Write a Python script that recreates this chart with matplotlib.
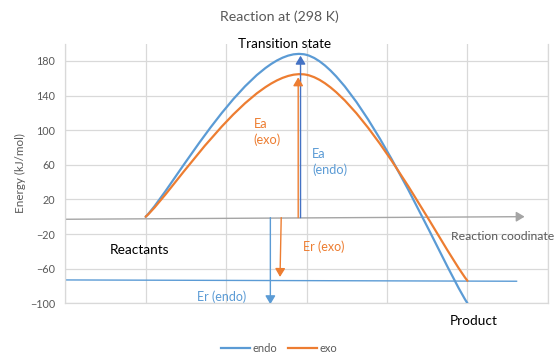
import matplotlib
matplotlib.use("Agg")
import matplotlib.pyplot as plt
from matplotlib.path import Path
from matplotlib.patches import PathPatch, FancyArrowPatch
from matplotlib.lines import Line2D

plt.rcParams['font.family'] = ['Lato', 'DejaVu Sans']

# ---- data ----
stages = [1, 3, 5]                      # reactants, transition state, product
endo = [0, 187, -100]
exo = [0, 164, -74]
series_names = ["endo", "exo"]
yticks = [-100, -60, -20, 20, 60, 100, 140, 180]

# annotation arrows (x, y_start, y_end) in data units
ea_endo = [2.925, -1, 186]
ea_exo = [2.896, -1, 161]
er_endo = [2.55, -1, -101]
er_exo = [(2.685, -1), (2.67, -69.5)]
coord_axis = [(0, -2.9), (5.71, 0.1)]
product_level = [(0, -73), (5.61, -74.5)]

BLUE = "#5B9BD5"
DBLUE = "#4472C4"
ORANGE = "#ED7D31"
GRID = "#D9D9D9"
TXT = "#595959"


def smooth_path(xs, ys):
    pts = list(zip(xs, ys))
    n = len(pts)
    verts = [pts[0]]
    codes = [Path.MOVETO]
    for i in range(n - 1):
        p0 = pts[i - 1] if i > 0 else pts[i]
        p1 = pts[i]
        p2 = pts[i + 1]
        p3 = pts[i + 2] if i + 2 < n else pts[i + 1]
        c1 = (p1[0] + (p2[0] - p0[0]) / 6, p1[1] + (p2[1] - p0[1]) / 6)
        c2 = (p2[0] - (p3[0] - p1[0]) / 6, p2[1] - (p3[1] - p1[1]) / 6)
        verts += [c1, c2, p2]
        codes += [Path.CURVE4] * 3
    return Path(verts, codes)


fig = plt.figure(figsize=(5.58, 3.55), dpi=100)
ax = fig.add_axes([0.1168, 0.1456, 0.8652, 0.7315])
ax.set_xlim(0, 6)
ax.set_ylim(-100, 200)
ax.set_yticks(yticks)
ax.set_xticks(range(0, 7))
ax.set_xticklabels([])
ax.tick_params(length=0, labelsize=7.8, labelcolor=TXT, pad=7)
ax.grid(True, color=GRID, lw=0.9)
ax.set_axisbelow(True)
ax.spines["top"].set_visible(False)
for s in ["left", "right", "bottom"]:
    ax.spines[s].set_color(GRID)
    ax.spines[s].set_linewidth(0.9)

for ys, col in [(endo, BLUE), (exo, ORANGE)]:
    ax.add_patch(PathPatch(smooth_path(stages, ys), fc="none", ec=col, lw=1.6, capstyle="round", zorder=3))


def arrow(p0, p1, col, lw=1.0, hw=3.0, hl=5.0, z=4):
    a = FancyArrowPatch(p0, p1, arrowstyle=f"-|>,head_width={hw/2.5},head_length={hl/2.5}",
                        color=col, lw=lw, mutation_scale=2.5, shrinkA=0, shrinkB=0, zorder=z)
    ax.add_patch(a)


arrow((ea_endo[0], ea_endo[1]), (ea_endo[0], ea_endo[2]), DBLUE)
arrow((ea_exo[0], ea_exo[1]), (ea_exo[0], ea_exo[2]), ORANGE)
arrow((er_endo[0], er_endo[1]), (er_endo[0], er_endo[2]), BLUE)
arrow(er_exo[0], er_exo[1], ORANGE)
arrow(coord_axis[0], coord_axis[1], "#A5A5A5", lw=1.0, z=2)
ax.plot([p[0] for p in product_level], [p[1] for p in product_level], color=BLUE, lw=1.0, zorder=2)

ax.set_ylabel("Energy (kJ/mol)", color=TXT, fontsize=8.4, labelpad=3)
fig.text(0.5, 1 - 17 / 355, "Reaction at (298 K)", ha="center", va="center", color=TXT, fontsize=10.2)

ax.text(2.73, 199, "Transition state", ha="center", va="center", fontsize=9.7, color="black", clip_on=False)
ax.text(2.345, 98, "Ea\n(exo)", ha="left", va="center", fontsize=9.2, color=ORANGE, linespacing=1.3)
ax.text(3.07, 63.4, "Ea\n(endo)", ha="left", va="center", fontsize=9.2, color=BLUE, linespacing=1.3)
ax.text(0.557, -38.3, "Reactants", ha="left", va="center", fontsize=9.8, color="black")
ax.text(4.79, -23, "Reaction coodinate", ha="left", va="center", fontsize=8.8, color=TXT, clip_on=False)
ax.text(2.95, -34.5, "Er (exo)", ha="left", va="center", fontsize=9.0, color=ORANGE)
ax.text(1.634, -92.5, "Er (endo)", ha="left", va="center", fontsize=9.0, color=BLUE)
ax.text(4.78, -121, "Product", ha="left", va="center", fontsize=9.8, color="black", clip_on=False)

handles = [Line2D([], [], color=BLUE, lw=1.6), Line2D([], [], color=ORANGE, lw=1.6)]
fig.legend(handles, series_names, loc="center", bbox_to_anchor=(0.5, 1 - 348.5 / 355), ncol=2,
           frameon=False, fontsize=8.0, labelcolor=TXT, handlelength=2.6, handletextpad=0.2,
           columnspacing=1.0)

fig.savefig("out.png", dpi=100)
